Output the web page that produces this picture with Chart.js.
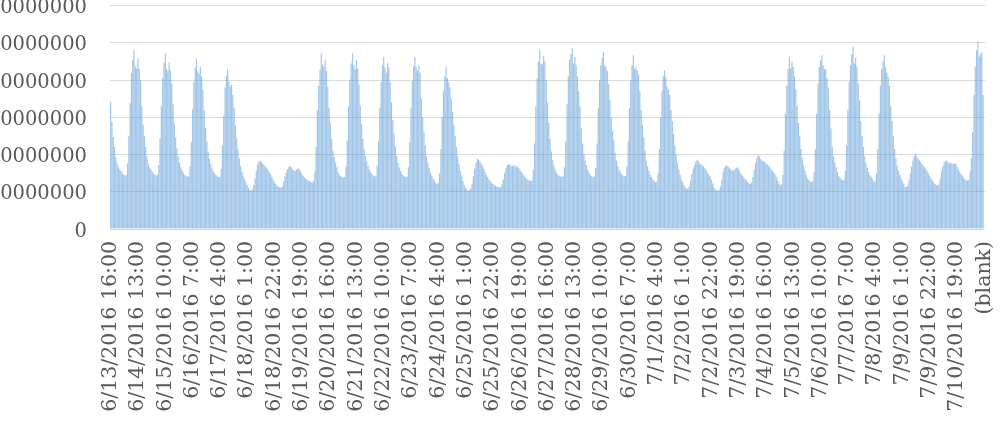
<!DOCTYPE html>
<html>
<head>
<meta charset="utf-8">
<script src="https://cdn.jsdelivr.net/npm/chart.js@4.4.0/dist/chart.umd.min.js"></script>
<style>
  html, body { margin: 0; padding: 0; background: #fff; overflow: hidden; }
  #wrap { position: relative; width: 1002px; height: 422px; overflow: hidden; }
  /* canvas is a little bigger than the page so the plot lines up with the cropped original */
  #chart-horas { position: absolute; left: 0; top: -29px; }
</style>
</head>
<body>
<div id="wrap"><canvas id="chart-horas" width="1021" height="451"></canvas></div>
<script>
// first hour shown on the axis, labels every 21 hours
const START_HOUR = { month: 6, day: 13, hour: 16 };
const DAYS_IN_MONTH = { 6: 30, 7: 31 };
const TICK_EVERY = 21;
const BLANK_LABEL = '(blank)';

const Y_TICK_LABELS = ['0', '10000000', '20000000', '30000000', '40000000', '50000000', '60000000'];

// hourly totals, in millions, one row per day (first and last rows are partial)
const hourlyByDay = [
  /* 6/13 16-23 */ [34.2, 28.8, 24.7, 22.0, 19.3, 17.6, 16.6, 16.0],
  /* 6/14 */ [15.5, 15.0, 14.6, 14.3, 14.5, 17.6, 25.0, 33.8, 42.0, 45.5, 48.1, 43.6, 43.2, 45.8, 43.0, 40.0, 33.0, 28.0, 25.0, 22.0, 19.5, 17.6, 16.5, 16.0],
  /* 6/15 */ [15.4, 14.9, 14.6, 14.4, 14.6, 17.2, 24.3, 33.0, 40.6, 44.6, 47.2, 43.0, 42.5, 44.8, 42.6, 39.0, 33.5, 28.4, 24.6, 21.6, 19.4, 17.8, 16.6, 15.8],
  /* 6/16 */ [15.1, 14.6, 14.3, 14.0, 14.2, 16.8, 23.5, 32.2, 39.5, 43.4, 45.8, 42.3, 41.8, 43.5, 41.0, 37.5, 32.0, 27.2, 23.5, 20.8, 18.9, 17.4, 16.3, 15.5],
  /* 6/17 */ [15.0, 14.5, 14.1, 13.9, 14.0, 16.2, 22.5, 30.5, 38.0, 41.2, 43.0, 39.5, 38.2, 38.8, 36.0, 32.5, 28.0, 24.4, 21.4, 19.0, 17.0, 15.4, 14.2, 13.4],
  /* 6/18 */ [12.6, 11.8, 11.0, 10.5, 10.3, 10.6, 11.8, 13.6, 15.6, 17.4, 18.2, 18.4, 18.0, 17.6, 17.2, 16.8, 16.4, 15.9, 15.3, 14.7, 14.0, 13.3, 12.6, 12.1],
  /* 6/19 */ [11.7, 11.4, 11.2, 11.1, 11.4, 12.8, 14.2, 15.2, 16.1, 16.6, 16.9, 16.6, 16.0, 15.7, 15.6, 15.9, 16.2, 16.2, 15.6, 14.9, 14.3, 13.9, 13.5, 13.2],
  /* 6/20 */ [13.0, 12.8, 12.6, 12.5, 12.8, 15.5, 22.0, 32.0, 38.5, 42.7, 47.2, 44.2, 43.6, 45.5, 42.5, 38.2, 32.5, 28.4, 24.2, 21.0, 19.2, 17.8, 16.6, 15.3],
  /* 6/21 */ [14.6, 14.2, 14.0, 13.8, 14.0, 16.8, 23.8, 33.0, 40.2, 44.5, 47.2, 44.0, 43.0, 45.4, 43.2, 38.8, 33.2, 28.3, 24.2, 21.4, 19.6, 18.1, 16.9, 16.0],
  /* 6/22 */ [15.3, 14.8, 14.4, 14.1, 14.3, 17.0, 23.6, 32.5, 39.5, 44.0, 46.3, 43.4, 42.0, 44.6, 43.4, 39.5, 34.0, 29.2, 25.6, 22.2, 19.6, 17.8, 16.5, 15.6],
  /* 6/23 */ [14.9, 14.4, 14.1, 13.9, 14.1, 16.6, 23.4, 32.6, 39.8, 43.8, 46.3, 43.5, 42.6, 44.0, 42.0, 35.0, 30.0, 26.0, 22.5, 19.5, 17.8, 16.3, 15.2, 14.4],
  /* 6/24 */ [13.6, 13.0, 12.5, 12.1, 12.4, 15.0, 21.5, 30.0, 37.0, 41.0, 43.6, 40.5, 39.5, 38.0, 35.0, 31.5, 28.0, 25.0, 22.0, 19.5, 17.3, 15.6, 14.2, 12.9],
  /* 6/25 */ [11.8, 11.0, 10.5, 10.3, 10.4, 10.9, 12.2, 14.2, 16.2, 17.8, 18.9, 18.7, 18.2, 17.6, 17.0, 16.2, 15.4, 14.6, 14.0, 13.3, 12.9, 12.5, 12.1, 11.8],
  /* 6/26 */ [11.6, 11.4, 11.3, 11.2, 11.2, 12.0, 13.4, 15.0, 16.4, 17.2, 17.5, 17.2, 16.8, 16.9, 17.1, 16.8, 16.9, 16.6, 16.3, 15.8, 15.3, 14.8, 14.4, 13.8],
  /* 6/27 */ [13.5, 13.2, 13.0, 12.9, 13.1, 16.0, 23.0, 33.0, 40.5, 45.0, 48.1, 44.5, 44.2, 46.5, 45.0, 40.0, 34.0, 28.5, 24.2, 20.8, 18.6, 17.0, 15.9, 15.1],
  /* 6/28 */ [14.6, 14.3, 14.1, 14.0, 14.2, 16.6, 23.5, 33.5, 41.0, 45.5, 47.0, 48.6, 44.5, 46.2, 44.0, 41.0, 37.0, 33.0, 27.0, 23.0, 20.0, 18.4, 17.2, 16.0],
  /* 6/29 */ [15.2, 14.6, 14.2, 14.0, 14.1, 16.4, 23.0, 32.5, 40.0, 44.0, 46.0, 47.6, 44.0, 43.5, 42.5, 39.0, 34.6, 30.0, 26.5, 23.8, 20.5, 18.4, 17.0, 16.0],
  /* 6/30 */ [15.4, 14.8, 14.4, 14.2, 14.3, 16.8, 23.5, 32.5, 40.0, 44.0, 46.7, 43.0, 43.6, 42.6, 41.5, 37.0, 32.0, 28.0, 24.6, 21.0, 18.4, 16.8, 15.6, 14.7],
  /* 7/1  */ [14.0, 13.4, 12.9, 12.6, 12.7, 15.0, 21.5, 30.0, 37.0, 41.0, 42.7, 40.8, 38.2, 37.5, 36.0, 32.0, 29.0, 25.5, 22.5, 20.0, 17.8, 16.0, 14.6, 13.2],
  /* 7/2  */ [12.6, 11.8, 11.2, 10.8, 10.8, 11.5, 13.0, 14.8, 16.2, 17.2, 18.0, 18.6, 18.3, 17.6, 17.4, 17.1, 16.8, 16.3, 15.8, 15.2, 14.7, 14.1, 13.2, 12.3],
  /* 7/3  */ [11.2, 10.7, 10.4, 10.3, 10.5, 11.5, 13.2, 15.2, 16.4, 16.9, 17.1, 16.8, 16.3, 16.0, 15.8, 15.7, 16.0, 16.4, 16.6, 16.2, 15.4, 14.8, 14.3, 13.8],
  /* 7/4  */ [13.5, 13.0, 12.6, 12.3, 12.1, 12.6, 14.0, 16.0, 17.8, 19.0, 19.8, 19.5, 18.8, 18.4, 18.2, 18.0, 17.6, 17.3, 17.0, 16.6, 16.1, 15.6, 15.2, 14.7],
  /* 7/5  */ [14.0, 13.0, 12.2, 11.7, 12.0, 14.5, 21.0, 31.0, 38.5, 43.0, 46.3, 43.2, 45.0, 43.5, 41.0, 37.5, 33.0, 28.5, 25.0, 21.5, 19.0, 17.2, 15.8, 14.6],
  /* 7/6  */ [13.6, 13.1, 12.8, 12.6, 12.9, 15.2, 21.5, 31.0, 39.0, 43.5, 45.5, 46.7, 44.0, 43.0, 42.8, 40.5, 38.0, 32.0, 27.0, 22.0, 19.5, 17.8, 16.6, 15.3],
  /* 7/7  */ [14.2, 13.8, 13.4, 13.1, 13.2, 15.6, 22.5, 32.0, 39.5, 44.0, 47.0, 49.0, 44.5, 46.0, 43.6, 39.0, 34.6, 29.0, 25.0, 22.0, 19.5, 17.7, 16.4, 15.3],
  /* 7/8  */ [14.5, 13.9, 13.4, 12.6, 12.8, 15.0, 21.5, 31.0, 38.5, 43.0, 45.0, 46.7, 43.5, 42.0, 40.9, 38.5, 33.0, 29.0, 25.0, 21.5, 19.0, 17.0, 15.6, 14.5],
  /* 7/9  */ [13.6, 12.8, 12.0, 11.3, 11.2, 11.6, 13.0, 14.9, 16.8, 18.4, 19.4, 20.2, 19.6, 18.9, 18.5, 18.1, 17.5, 17.0, 16.6, 16.0, 15.5, 15.0, 14.2, 13.5],
  /* 7/10 */ [13.0, 12.5, 12.1, 11.8, 11.7, 12.0, 13.5, 15.5, 16.8, 17.8, 18.2, 18.4, 18.0, 17.6, 17.8, 17.6, 17.4, 17.6, 17.6, 16.8, 16.0, 15.3, 14.8, 14.4],
  /* 7/11 0-15 */ [13.8, 13.4, 13.1, 13.0, 13.2, 15.5, 19.0, 26.0, 36.0, 43.6, 48.0, 50.3, 46.3, 47.0, 47.5, 36.0],
];

const X_FONT = { family: "'DejaVu Serif', serif", size: 20.5 };
const Y_FONT = { family: "'DejaVu Serif', serif", size: 19.5 };
const TEXT_COLOR = '#595959';

function buildHourLabels(count) {
  const labels = [];
  let { month, day, hour } = START_HOUR;
  for (let i = 0; i < count; i++) {
    labels.push(`${month}/${day}/2016 ${hour}:00`);
    hour++;
    if (hour === 24) {
      hour = 0;
      day++;
      if (day > DAYS_IN_MONTH[month]) { day = 1; month++; }
    }
  }
  return labels;
}

const values = hourlyByDay.flat();
const labels = buildHourLabels(values.length);
labels.push(BLANK_LABEL);
values.push(null);

new Chart(document.getElementById('chart-horas'), {
  type: 'bar',
  data: {
    labels: labels,
    datasets: [{
      data: values,
      backgroundColor: 'rgba(91,155,213,0.58)',
      borderWidth: 0,
      categoryPercentage: 0.9,
      barPercentage: 1,
    }],
  },
  options: {
    responsive: false,
    animation: false,
    layout: { padding: { top: 0, right: 15, bottom: 0, left: 0 } },
    plugins: { legend: { display: false }, tooltip: { enabled: false } },
    scales: {
      x: {
        grid: { display: false, drawTicks: false },
        border: { display: false },
        ticks: {
          autoSkip: false,
          maxRotation: 90,
          minRotation: 90,
          padding: 12,
          color: TEXT_COLOR,
          font: X_FONT,
          callback: (v, i) => (i % TICK_EVERY === 0 ? labels[i] : ''),
        },
        afterFit: s => { s.height = 193; },
      },
      y: {
        min: 0,
        max: 60,
        grid: { color: '#d9d9d9', lineWidth: 1, drawTicks: false },
        border: { display: false },
        ticks: {
          stepSize: 10,
          padding: 23,
          labelOffset: 2.5,
          color: TEXT_COLOR,
          font: Y_FONT,
          callback: v => Y_TICK_LABELS[Math.round(v / 10)],
        },
        afterFit: s => { s.width = 110; },
      },
    },
  },
});
</script>
</body>
</html>
